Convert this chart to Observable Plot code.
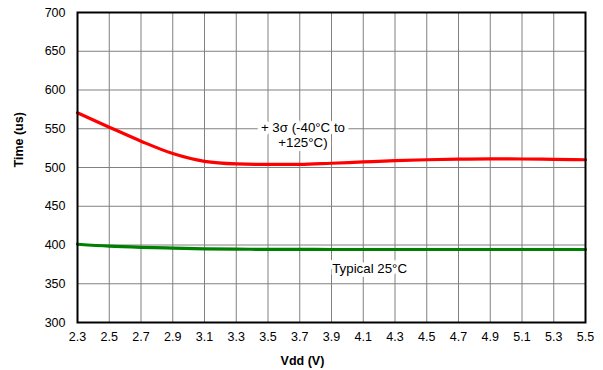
<!DOCTYPE html>
<html>
<head>
<meta charset="utf-8">
<script src="https://cdn.jsdelivr.net/npm/d3@7"></script>
<script src="https://cdn.jsdelivr.net/npm/@observablehq/plot@0.6"></script>
<style>
  html, body { margin: 0; padding: 0; background: #fff; }
  svg { font-family: "Liberation Sans", Arial, sans-serif; }
</style>
</head>
<body>
<div id="chart"></div>
<script>
const vdd = [2.3, 2.5, 2.7, 2.9, 3.1, 3.3, 3.5, 3.7, 3.9, 4.1, 4.3, 4.5, 4.7, 4.9, 5.1, 5.3, 5.5];
const sigmaTime = [570.5, 552, 534, 518, 508, 504.7, 504, 504, 505.5, 507.2, 508.8, 510, 510.8, 511.2, 511, 510.6, 510];
const typicalTime = [401, 398.5, 397, 396, 395, 394.6, 394.4, 394.3, 394.2, 394.2, 394.2, 394.2, 394.2, 394.2, 394.2, 394.2, 394.2];
const xTicks = [2.3, 2.5, 2.7, 2.9, 3.1, 3.3, 3.5, 3.7, 3.9, 4.1, 4.3, 4.5, 4.7, 4.9, 5.1, 5.3, 5.5];
const yTicks = [300, 350, 400, 450, 500, 550, 600, 650, 700];
const labels = [
  {x: 3.72, y: 542, text: "+ 3σ (-40°C to\n+125°C)"},
  {x: 4.14, y: 370, text: "Typical 25°C"}
];

const sigma = vdd.map((v, i) => ({x: v, y: sigmaTime[i]}));
const typical = vdd.map((v, i) => ({x: v, y: typicalTime[i]}));

const chart = Plot.plot({
  width: 603,
  height: 370,
  marginLeft: 77,
  marginRight: 18,
  marginTop: 12,
  marginBottom: 48,
  style: {fontFamily: "'Liberation Sans', Arial, sans-serif", fontSize: "12.5px", color: "#000", background: "#fff"},
  x: {domain: [2.3, 5.5], ticks: xTicks, tickFormat: d => d.toFixed(1)},
  y: {domain: [300, 700], ticks: yTicks},
  marks: [
    Plot.gridX(xTicks, {stroke: "#808080", strokeOpacity: 1, strokeWidth: 1}),
    Plot.gridY(yTicks, {stroke: "#808080", strokeOpacity: 1, strokeWidth: 1}),
    Plot.axisX(xTicks, {tickSize: 0, tickPadding: 10, tickFormat: d => d.toFixed(1), fontSize: 12.5, label: null}),
    Plot.axisY(yTicks, {tickSize: 0, tickPadding: 12, fontSize: 12.5, label: null}),
    Plot.text(labels, {x: "x", y: "y", text: "text", fontSize: 13.3, fill: "white", stroke: "white", strokeWidth: 8, lineHeight: 1.15}),
    Plot.line(sigma, {x: "x", y: "y", stroke: "#ff0000", strokeWidth: 3.2, curve: "monotone-x"}),
    Plot.line(typical, {x: "x", y: "y", stroke: "#008000", strokeWidth: 3.2, curve: "monotone-x"}),
    Plot.text(labels, {x: "x", y: "y", text: "text", fontSize: 13.3, fill: "#000", fontWeight: "normal", lineHeight: 1.15}),
    Plot.frame({stroke: "#000", strokeWidth: 2}),
    Plot.text(["Vdd (V)"], {frameAnchor: "bottom", x: 3.717, dy: 42, fontWeight: "bold", fontSize: 12.5}),
    Plot.text(["Time (us)"], {frameAnchor: "left", dx: -59, rotate: -90, fontWeight: "bold", fontSize: 12.5})
  ]
});
document.getElementById("chart").appendChild(chart);
</script>
</body>
</html>
